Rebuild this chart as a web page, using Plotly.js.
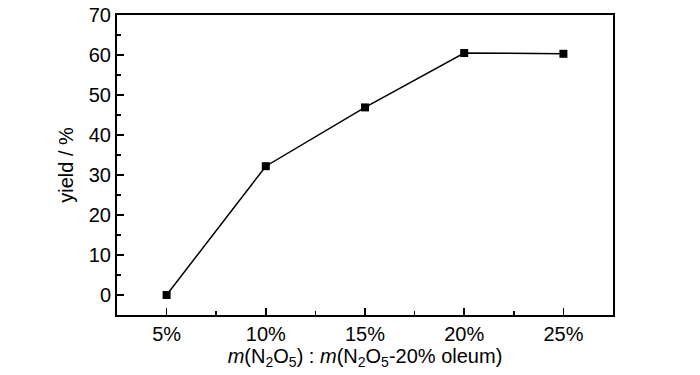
<!DOCTYPE html>
<html>
<head>
<meta charset="utf-8">
<script src="https://cdn.plot.ly/plotly-3.0.1.min.js"></script>
<style>html,body{margin:0;padding:0;background:#fff;}#chart{width:700px;height:375px;}</style>
</head>
<body>
<div id="chart"></div>
<script>
const categories = ["5%", "10%", "15%", "20%", "25%"];
const yieldValues = [0, 32.2, 46.9, 60.5, 60.3];
const yTicks = [0, 10, 20, 30, 40, 50, 60, 70];

const xIdx = categories.map((c, i) => i);
const font = "Liberation Sans, Arial, sans-serif";

const trace = {
  x: xIdx,
  y: yieldValues,
  mode: "lines+markers",
  type: "scatter",
  line: {color: "#000", width: 1.5},
  marker: {symbol: "square", size: 8, color: "#000"},
  hoverinfo: "skip"
};

const layout = {
  width: 700, height: 375,
  margin: {l: 117, r: 87, t: 15, b: 60},
  paper_bgcolor: "#fff", plot_bgcolor: "#fff",
  showlegend: false,
  font: {family: font, color: "#000", size: 20},
  xaxis: {
    range: [-0.5, 4.5],
    tickmode: "array", tickvals: xIdx, ticktext: categories,
    ticks: "inside", ticklen: 7, tickwidth: 1.5, tickcolor: "#000",
    minor: {tickmode: "array", tickvals: [0.5, 1.5, 2.5, 3.5], ticks: "inside", ticklen: 4, tickwidth: 1.5, tickcolor: "#000", showgrid: false},
    showline: true, linecolor: "#000", linewidth: 2, mirror: true,
    showgrid: false, zeroline: false,
    tickfont: {family: font, size: 20},
    title: {text: "<i>m</i>(N<sub>2</sub>O<sub>5</sub>) : <i>m</i>(N<sub>2</sub>O<sub>5</sub>-20% oleum)", font: {family: font, size: 20}, standoff: 2}
  },
  yaxis: {
    range: [-5, 70],
    tickmode: "array", tickvals: yTicks,
    ticks: "inside", ticklen: 7, tickwidth: 1.5, tickcolor: "#000",
    minor: {dtick: 5, tick0: 0, ticks: "inside", ticklen: 4, tickwidth: 1.5, tickcolor: "#000", showgrid: false},
    showline: true, linecolor: "#000", linewidth: 2, mirror: true,
    showgrid: false, zeroline: false,
    tickfont: {family: font, size: 20},
    title: {text: "yield / %", font: {family: font, size: 20}, standoff: 10}
  }
};

Plotly.newPlot("chart", [trace], layout, {staticPlot: true, displayModeBar: false});
</script>
</body>
</html>
